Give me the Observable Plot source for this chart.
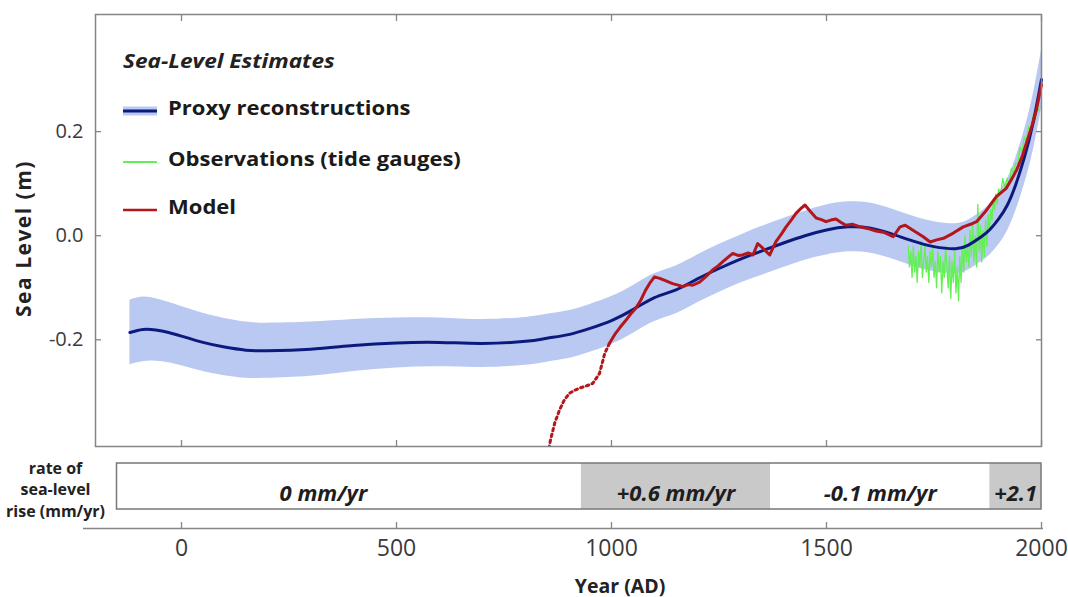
<!DOCTYPE html>
<html><head><meta charset="utf-8">
<script src="https://cdn.jsdelivr.net/npm/d3@7"></script>
<script src="https://cdn.jsdelivr.net/npm/@observablehq/plot@0.6"></script>
<style>
body{margin:0;background:#fff;font-family:"Open Sans",sans-serif;}
#wrap{position:relative;width:1068px;height:597px;overflow:hidden;background:#fff}
#wrap > svg{display:block}
#legend{position:absolute;left:0;top:0}
</style></head><body><div id="wrap"></div>
<script>
// ---------- data ----------
const xTicks = [0, 500, 1000, 1500, 2000];
const yTicks = [-0.2, 0, 0.2];

const proxyYears = [-120,-90,-60,-30,0,50,100,150,200,300,400,500,600,700,800,850,900,950,1000,1050,1100,1150,1200,1250,1300,1350,1400,1450,1500,1550,1600,1650,1700,1750,1800,1830,1860,1880,1900,1920,1940,1960,1980,2000];
const proxyMean = [-0.186,-0.180,-0.181,-0.186,-0.193,-0.205,-0.214,-0.220,-0.221,-0.218,-0.211,-0.206,-0.205,-0.207,-0.203,-0.197,-0.190,-0.178,-0.163,-0.142,-0.119,-0.104,-0.083,-0.063,-0.045,-0.029,-0.014,0.000,0.011,0.017,0.015,0.004,-0.010,-0.021,-0.025,-0.018,-0.002,0.012,0.032,0.058,0.098,0.150,0.215,0.300];
const proxyHalfWidth = [0.062,0.062,0.060,0.058,0.057,0.056,0.055,0.054,0.053,0.052,0.050,0.048,0.047,0.046,0.046,0.046,0.046,0.046,0.046,0.046,0.046,0.046,0.046,0.046,0.046,0.047,0.047,0.047,0.048,0.048,0.048,0.048,0.048,0.048,0.048,0.048,0.048,0.049,0.050,0.050,0.051,0.052,0.054,0.056];

const obsYears = [1690,1693,1696,1699,1702,1705,1708,1711,1714,1717,1720,1723,1726,1729,1732,1735,1738,1741,1744,1747,1750,1753,1756,1759,1762,1765,1768,1771,1774,1777,1780,1783,1786,1789,1792,1795,1798,1801,1804,1807,1810,1813,1816,1819,1822,1825,1828,1831,1834,1837,1840,1843,1846,1849,1852,1855,1858,1861,1864,1867,1870,1873,1876,1879,1882,1885,1888,1891,1894,1897,1900,1905,1910,1915,1920,1925,1930,1935,1940,1945,1950,1955,1960,1965,1970,1975,1980,1985,1990,1995];
const obsLevels = [-0.02,-0.06,-0.03,-0.08,-0.02,-0.07,-0.04,-0.09,-0.03,-0.06,-0.01,-0.08,-0.05,-0.02,-0.07,-0.04,-0.09,-0.03,-0.06,-0.02,-0.08,-0.05,-0.10,-0.03,-0.07,-0.04,-0.11,-0.05,-0.08,-0.02,-0.06,-0.10,-0.04,-0.12,-0.05,-0.09,-0.03,-0.11,-0.06,-0.125,-0.04,-0.09,-0.02,-0.07,0.00,-0.05,-0.02,-0.06,0.01,-0.04,0.02,-0.05,0.00,-0.06,0.06,-0.03,0.02,-0.05,0.01,-0.04,0.03,-0.02,0.04,0.01,0.05,0.03,0.07,0.05,0.08,0.06,0.09,0.08,0.11,0.09,0.11,0.10,0.13,0.12,0.14,0.14,0.17,0.16,0.19,0.18,0.21,0.20,0.23,0.22,0.25,0.24];

const modelEarlyYears = [852,858,868,879,890,902,914,925,940,956,972,984,995];
const modelEarlyLevels = [-0.42,-0.393,-0.36,-0.335,-0.316,-0.303,-0.297,-0.293,-0.289,-0.284,-0.265,-0.227,-0.207];

const modelYears = [995,1009,1020,1033,1045,1056,1068,1079,1090,1100,1112,1124,1142,1155,1166,1178,1189,1205,1220,1235,1248,1259,1270,1282,1294,1305,1318,1329,1340,1352,1368,1382,1395,1406,1418,1429,1440,1450,1462,1476,1488,1499,1510,1522,1533,1545,1560,1578,1595,1615,1635,1655,1671,1683,1702,1725,1741,1756,1772,1795,1818,1835,1849,1872,1895,1918,1930,1942,1955,1965,1978,1988,2000];
const modelLevels = [-0.207,-0.188,-0.176,-0.163,-0.150,-0.140,-0.124,-0.105,-0.090,-0.079,-0.082,-0.086,-0.092,-0.095,-0.098,-0.094,-0.095,-0.089,-0.078,-0.066,-0.058,-0.050,-0.042,-0.034,-0.038,-0.037,-0.033,-0.037,-0.015,-0.024,-0.037,-0.012,0.003,0.017,0.030,0.043,0.052,0.059,0.047,0.034,0.031,0.027,0.030,0.032,0.026,0.020,0.022,0.017,0.014,0.009,0.006,-0.002,0.017,0.020,0.010,-0.002,-0.012,-0.008,-0.005,0.005,0.017,0.022,0.027,0.049,0.075,0.091,0.108,0.126,0.152,0.178,0.212,0.241,0.290];

const rateStart = [-150, 930, 1370, 1880];
const rateEnd = [930, 1370, 1880, 2000];
const rateLabels = ["0 mm/yr", "+0.6 mm/yr", "-0.1 mm/yr", "+2.1"];
const rateLabelYear = [330, 1150, 1625, 1940];
const rateFills = ["#ffffff", "#c9c9c9", "#ffffff", "#c9c9c9"];

const yLabel = "Sea Level (m)";
const xLabel = "Year (AD)";
const xLabelYear = 1020;
const rateTitle = "rate of\nsea-level\nrise (mm/yr)";
const legendTitle = "Sea-Level Estimates";
const legendItems = ["Proxy reconstructions", "Observations (tide gauges)", "Model"];

// ---------- tables ----------
const proxy = proxyYears.map((year, i) => ({year, mean: proxyMean[i], low: proxyMean[i] - proxyHalfWidth[i], high: proxyMean[i] + proxyHalfWidth[i]}));
const obs = obsYears.map((year, i) => ({year, level: obsLevels[i]}));
const modelEarly = modelEarlyYears.map((year, i) => ({year, level: modelEarlyLevels[i]}));
const model = modelYears.map((year, i) => ({year, level: modelLevels[i]}));
const rates = rateStart.map((start, i) => ({start, end: rateEnd[i], label: rateLabels[i], labelYear: rateLabelYear[i], fill: rateFills[i]}));

const FONT = "'Open Sans', sans-serif";
const W = 1068;
const xDomain = [-200, 2000];
const xRange = [95, 1041];
const BAND = "#b9c9f1", BLUE = "#0c1a7e", RED = "#b3161b", GREEN = "#62f052", FRAME = "#858585", TXT = "#3a3a3a";
const noText = () => "";

const main = Plot.plot({
  width: W, height: 452, marginLeft: 95, marginRight: 27, marginTop: 14, marginBottom: 6,
  x: {domain: xDomain, range: xRange, axis: null},
  y: {domain: [-0.405, 0.425], axis: null},
  style: {fontFamily: FONT, background: "white", overflow: "visible"},
  marks: [
    Plot.areaY(proxy, {x: "year", y1: "low", y2: "high", fill: BAND, curve: "natural"}),
    Plot.line(obs, {x: "year", y: "level", stroke: GREEN, strokeWidth: 1.3}),
    Plot.line(proxy, {x: "year", y: "mean", stroke: BLUE, strokeWidth: 3, curve: "natural"}),
    Plot.line(modelEarly, {x: "year", y: "level", stroke: RED, strokeWidth: 3, strokeDasharray: "2.5,3.5", clip: true}),
    Plot.line(model, {x: "year", y: "level", stroke: RED, strokeWidth: 3, strokeLinejoin: "round"}),
    Plot.frame({stroke: FRAME, strokeWidth: 1.5}),
    Plot.axisX({anchor: "bottom", ticks: xTicks, tickSize: 6, dy: -6, tickFormat: noText, stroke: FRAME, strokeWidth: 1.3, label: null}),
    Plot.axisX({anchor: "top", ticks: xTicks, tickSize: 6, dy: 6, tickFormat: noText, stroke: FRAME, strokeWidth: 1.3, label: null}),
    Plot.axisY({anchor: "left", ticks: yTicks, tickSize: 6, dx: 6, tickFormat: noText, stroke: FRAME, strokeWidth: 1.3, label: null}),
    Plot.axisY({anchor: "right", ticks: yTicks, tickSize: 6, dx: -6, tickFormat: noText, stroke: FRAME, strokeWidth: 1.3, label: null}),
    Plot.axisY({anchor: "left", ticks: yTicks, tickSize: 0, tickPadding: 12, tickFormat: d => d.toFixed(1), fontSize: 20, fill: TXT, label: null}),
    Plot.text([yLabel], {text: d => d, frameAnchor: "left", textAnchor: "middle", dx: -71, dy: 8, rotate: -90, fontSize: 21, fontWeight: "bold", fill: "#222"})
  ]
});
main.querySelectorAll("text").forEach(t => { if (t.textContent === yLabel) t.setAttribute("letter-spacing", "1.5"); });

const rateBar = Plot.plot({
  width: W, height: 62, marginLeft: 95, marginRight: 27, marginTop: 11, marginBottom: 5,
  x: {domain: xDomain, range: xRange, axis: null},
  color: {type: "identity"},
  style: {fontFamily: FONT, background: "white", overflow: "visible"},
  marks: [
    Plot.rect(rates, {x1: "start", x2: "end", fill: "fill"}),
    Plot.rect([rates], {x1: d => d[0].start, x2: d => d[d.length - 1].end, fill: "none", stroke: "#777", strokeWidth: 1.5}),
    Plot.text(rates, {x: "labelYear", text: "label", dy: 7, fontSize: 22, fontWeight: "bold", fontStyle: "italic", fill: "#1e1e1e"}),
    Plot.text([rateTitle], {text: d => d, frameAnchor: "left", textAnchor: "middle", dx: -40, dy: 2, lineHeight: 1.34, fontSize: 16, fontWeight: "bold", fill: "#222"})
  ]
});

const axisBottom = Plot.plot({
  width: W, height: 83, marginLeft: 83, marginRight: 25, marginTop: 0, marginBottom: 69,
  x: {domain: xDomain, range: xRange, axis: null},
  y: {domain: [0, 1], axis: null},
  style: {fontFamily: FONT, background: "white", overflow: "visible"},
  marks: [
    Plot.ruleY([0], {stroke: FRAME, strokeWidth: 1.5}),
    Plot.axisX({anchor: "bottom", ticks: xTicks, tickSize: 6, dy: -6, tickFormat: noText, stroke: FRAME, strokeWidth: 1.3, label: null}),
    Plot.axisX({anchor: "bottom", ticks: xTicks, tickSize: 0, tickPadding: 11, tickFormat: d => String(d), fontSize: 23, fill: TXT, label: null}),
    Plot.text([xLabel], {text: d => d, x: xLabelYear, frameAnchor: "bottom", dy: 64, lineAnchor: "bottom", fontSize: 19.5, fontWeight: "bold", fill: "#222"})
  ]
});

const wrap = document.getElementById("wrap");
wrap.append(main, rateBar, axisBottom);

// legend overlay
const ns = "http://www.w3.org/2000/svg";
const leg = document.createElementNS(ns, "svg");
leg.setAttribute("id", "legend");
leg.setAttribute("width", 480); leg.setAttribute("height", 230);
leg.style.fontFamily = FONT;
function el(tag, attrs, text) {
  const e = document.createElementNS(ns, tag);
  for (const k in attrs) e.setAttribute(k, attrs[k]);
  if (text) e.textContent = text;
  leg.appendChild(e); return e;
}
el("text", {transform: "translate(123,68) scale(1.19,1)", "font-size": 19, "font-weight": "bold", "font-style": "italic", fill: "#222"}, legendTitle);
const rowY = [111, 162, 210];
el("rect", {x: 123, y: rowY[0] - 4.5, width: 34, height: 9, fill: BAND});
el("line", {x1: 123, x2: 157, y1: rowY[0], y2: rowY[0], stroke: BLUE, "stroke-width": 3});
el("line", {x1: 123, x2: 157, y1: rowY[1], y2: rowY[1], stroke: GREEN, "stroke-width": 2});
el("line", {x1: 123, x2: 157, y1: rowY[2], y2: rowY[2], stroke: RED, "stroke-width": 2.5});
legendItems.forEach((t, i) => el("text", {transform: `translate(168,${rowY[i] + 4}) scale(1.16,1)`, "font-size": 19, "font-weight": "bold", fill: "#1a1a1a"}, t));
wrap.appendChild(leg);
</script></body></html>
